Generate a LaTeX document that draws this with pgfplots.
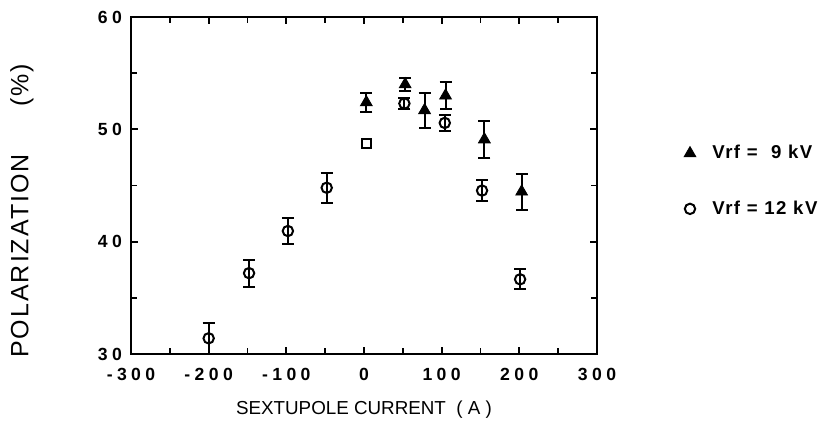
\documentclass[border=0pt]{standalone}
\usepackage{pgfplots}
\pgfplotsset{compat=1.18}
\usepackage{fontspec}
\setmainfont{Liberation Sans}
\begin{document}
\begin{tikzpicture}
\useasboundingbox (0,0) rectangle (411.5pt,215pt);
\begin{axis}[
  at={(65.5pt,38pt)}, anchor=south west,
  scale only axis, width=233pt, height=168.5pt,
  xmin=-300, xmax=300, ymin=30, ymax=60,
  xtick={-300,-200,...,300}, minor xtick={-250,-150,...,250},
  ytick={30,40,50,60}, minor ytick={35,45,55},
  tick align=inside, major tick length=3.5pt, minor tick length=3pt,
  every tick/.style={black, line width=0.9pt},
  axis line style={line width=1pt},
  /pgf/number format/assume math mode=true,
  tick label style={font=\fontsize{8.8}{10}\selectfont\bfseries\addfontfeature{LetterSpace=25}},
  xticklabel style={yshift=-3.5pt},
  yticklabel style={xshift=-1pt},
  xlabel={SEXTUPOLE CURRENT\ \ ( A )},
  xlabel style={font=\fontsize{9.4}{11}\selectfont, at={(axis description cs:0.5,0)}, anchor=center, yshift=-28pt},
  ylabel={POLARIZATION\hspace{1.9em}(\%)},
  ylabel style={font=\fontsize{12.5}{14}\selectfont\addfontfeature{LetterSpace=8}, at={(axis description cs:-0.234,0.425)}, anchor=center},
  legend style={at={(axis description cs:1.185,0.513)}, anchor=west, draw=none, fill=none,
    inner sep=0pt, row sep=15.5pt, font=\fontsize{9.3}{10}\selectfont\bfseries\addfontfeature{LetterSpace=8}},
  legend cell align=left,
  legend image code/.code={\draw[#1] plot coordinates {(0pt,0pt)}; \path (-3pt,0pt) (9pt,0pt);},
  error bars/error bar style={line width=1pt},
  error bars/error mark options={rotate=90, mark size=3pt, line width=1pt},
]
% Vrf = 9 kV (filled triangles)
\addplot[only marks, mark=triangle*, mark size=3.4pt, black,
  error bars/.cd, y dir=both, y explicit]
  table[x=x, y=y, y error=e] {
x   y     e
3   52.4  0.85
53  54.0  0.6
78  51.7  1.55
105 53.0  1.2
155 49.1  1.65
203 44.45 1.6
};
\addlegendentry{Vrf =\ \ 9 kV}
% Vrf = 12 kV (open circles)
\addplot[only marks, mark=o, mark size=2.6pt, black, mark options={line width=1pt},
  error bars/.cd, y dir=both, y explicit]
  table[x=x, y=y, y error=e] {
x    y     e
-200 31.4  1.4
-148 37.2  1.2
-98  40.95 1.2
-48  44.8  1.35
52   52.3  0.5
104  50.57 0.75
152  44.55 0.9
201  36.65 0.9
};
\addlegendentry{Vrf = 12 kV}
% open square at 0 A
\addplot[only marks, mark=square, mark size=2.2pt, black, mark options={line width=1.2pt}, forget plot]
  coordinates {(3,48.74)};
\end{axis}
\end{tikzpicture}
\end{document}
